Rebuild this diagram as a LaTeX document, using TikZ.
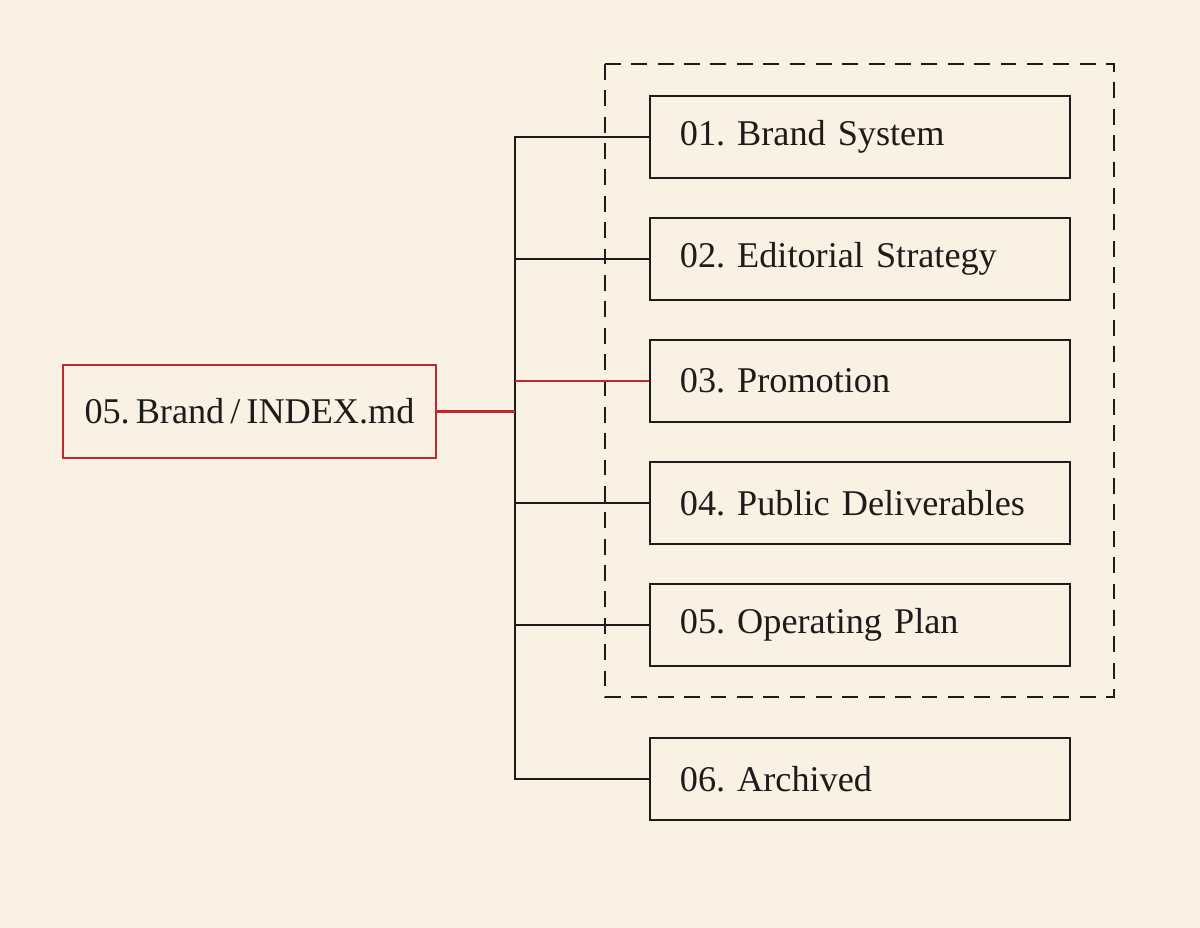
\documentclass[tikz,border=0pt]{standalone}
\usepackage{fontspec}
\setmainfont{Liberation Serif}
\definecolor{bgcream}{HTML}{F8F1E4}
\definecolor{accred}{HTML}{C0282D}
\definecolor{ink}{HTML}{1E1C1A}
\tikzset{
  item/.style={draw=ink, line width=0.6pt, rectangle, minimum height=0.82cm,
    text width=3.6cm, inner xsep=0.3cm, inner ysep=0pt, align=left,
    font=\fontsize{10.3}{12}\selectfont\frenchspacing, text=ink},
  rootbox/.style={draw=accred, line width=0.75pt, rectangle, minimum height=0.93cm,
    minimum width=3.73cm, inner sep=0pt, font=\fontsize{10.3}{12}\selectfont, text=ink},
  link/.style={draw=ink, line width=0.6pt},
  redlink/.style={draw=accred, line width=0.6pt},
  group/.style={draw=ink, line width=0.6pt, dash pattern=on 4.5pt off 3pt}
}
\begin{document}
\begin{tikzpicture}[x=0.01cm, y=-0.01cm]
\fill[bgcream] (0,0) rectangle (1200,928);
\useasboundingbox (0,0) rectangle (1200,928);

\draw[group] (605,64) rectangle (1114,697);

\node[rootbox] (root) at (249.5,411.5) {05.\,Brand\,/\,INDEX.md};

\node[item] (b1) at (860,137) {01. Brand System};
\node[item] (b2) at (860,259) {02. Editorial Strategy};
\node[item] (b3) at (860,381) {03. Promotion};
\node[item] (b4) at (860,503) {04. Public Deliverables};
\node[item] (b5) at (860,625) {05. Operating Plan};
\node[item] (b6) at (860,779) {06. Archived};

\coordinate (jr) at (515,411.5);
\coordinate (t1) at (515,137);
\coordinate (t2) at (515,259);
\coordinate (t3) at (515,381);
\coordinate (t4) at (515,503);
\coordinate (t5) at (515,625);
\coordinate (t6) at (515,779);

\draw[link] (b1.west) -- (t1) -- (t6) -- (b6.west);
\draw[link] (t2) -- (b2.west);
\draw[link] (t4) -- (b4.west);
\draw[link] (t5) -- (b5.west);
\draw[redlink] (t3) -- (b3.west);
\draw[redlink] (root.east) -- (jr);
\end{tikzpicture}
\end{document}
